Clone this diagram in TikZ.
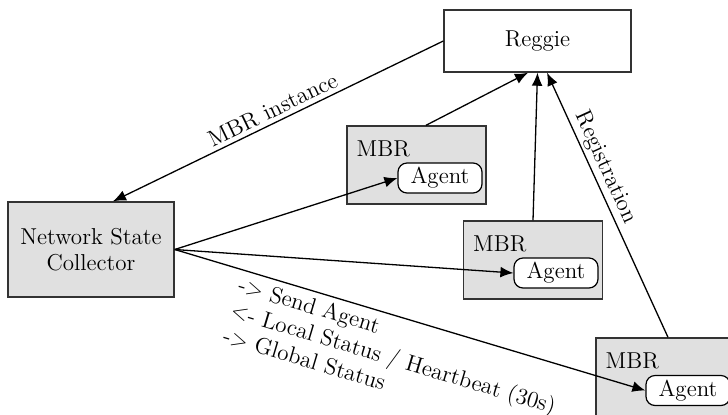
\documentclass[tikz,border=0pt]{standalone}
\usetikzlibrary{arrows.meta}
\begin{document}
\begin{tikzpicture}[x=0.5pt,y=-0.5pt,
  font=\fontsize{11.5}{13.2}\selectfont,
  box/.style={draw=black!80, line width=0.7pt, fill=black!12, inner sep=0pt},
  whitebox/.style={draw=black!80, line width=0.7pt, fill=white, inner sep=0pt},
  agentbox/.style={draw=black, line width=0.6pt, fill=white, rounded corners=4.5pt,
    minimum width=42pt, minimum height=15pt, inner sep=0pt},
  mbrbox/.style={box, minimum width=69.5pt, minimum height=39pt},
  mbrlabel/.style={anchor=base west, inner sep=0pt},
  arr/.style={-{Latex[length=6.5pt,width=5.4pt]}, line width=0.65pt, black},
  lbl/.style={sloped, inner sep=2pt}
]
\useasboundingbox (0,0) rectangle (728,414);

\node[whitebox, minimum width=93.5pt, minimum height=31pt] (reg) at (537.5,41) {Reggie};
\node[box, minimum width=83pt, minimum height=47.5pt, align=center] (nsc) at (91,249.5) {Network State\\Collector};

\node[mbrbox] (m1) at (416.5,165) {};
\node[mbrbox] (m2) at (533,260) {};
\node[mbrbox] (m3) at (665.5,377) {};

\node[mbrlabel] (t1) at ([shift={(5pt,-15.5pt)}]m1.north west) {MBR};
\node[mbrlabel] (t2) at ([shift={(5pt,-15.5pt)}]m2.north west) {MBR};
\node[mbrlabel] (t3) at ([shift={(5pt,-15.5pt)}]m3.north west) {MBR};

\node[agentbox] (a1) at (440,178) {Agent};
\node[agentbox] (a2) at (556,273) {Agent};
\node[agentbox] (a3) at (688,390.5) {Agent};

\draw[arr] (reg.west) -- node[lbl, above, pos=0.5] {MBR instance} ([xshift=11pt]nsc.north);

\draw[arr] ([xshift=4.75pt]m1.north) -- ([xshift=-4.75pt]reg.south);
\draw[arr] (m2.north) -- (reg.south);
\draw[arr] ([xshift=1.25pt]m3.north) -- node[lbl, above, pos=0.62, inner sep=1.5pt] {Registration} ([xshift=4.75pt]reg.south);

\draw[arr] (nsc.east) -- (a1.west);
\draw[arr] (nsc.east) -- (a2.west);
\draw[arr] (nsc.east) -- node[lbl, pos=0.49, yshift=-20.5pt, align=left, inner sep=0pt]
  {{-}{>} Send Agent\\{<}{-} Local Status / Heartbeat (30s)\\{-}{>} Global Status} (a3.west);
\end{tikzpicture}
\end{document}
